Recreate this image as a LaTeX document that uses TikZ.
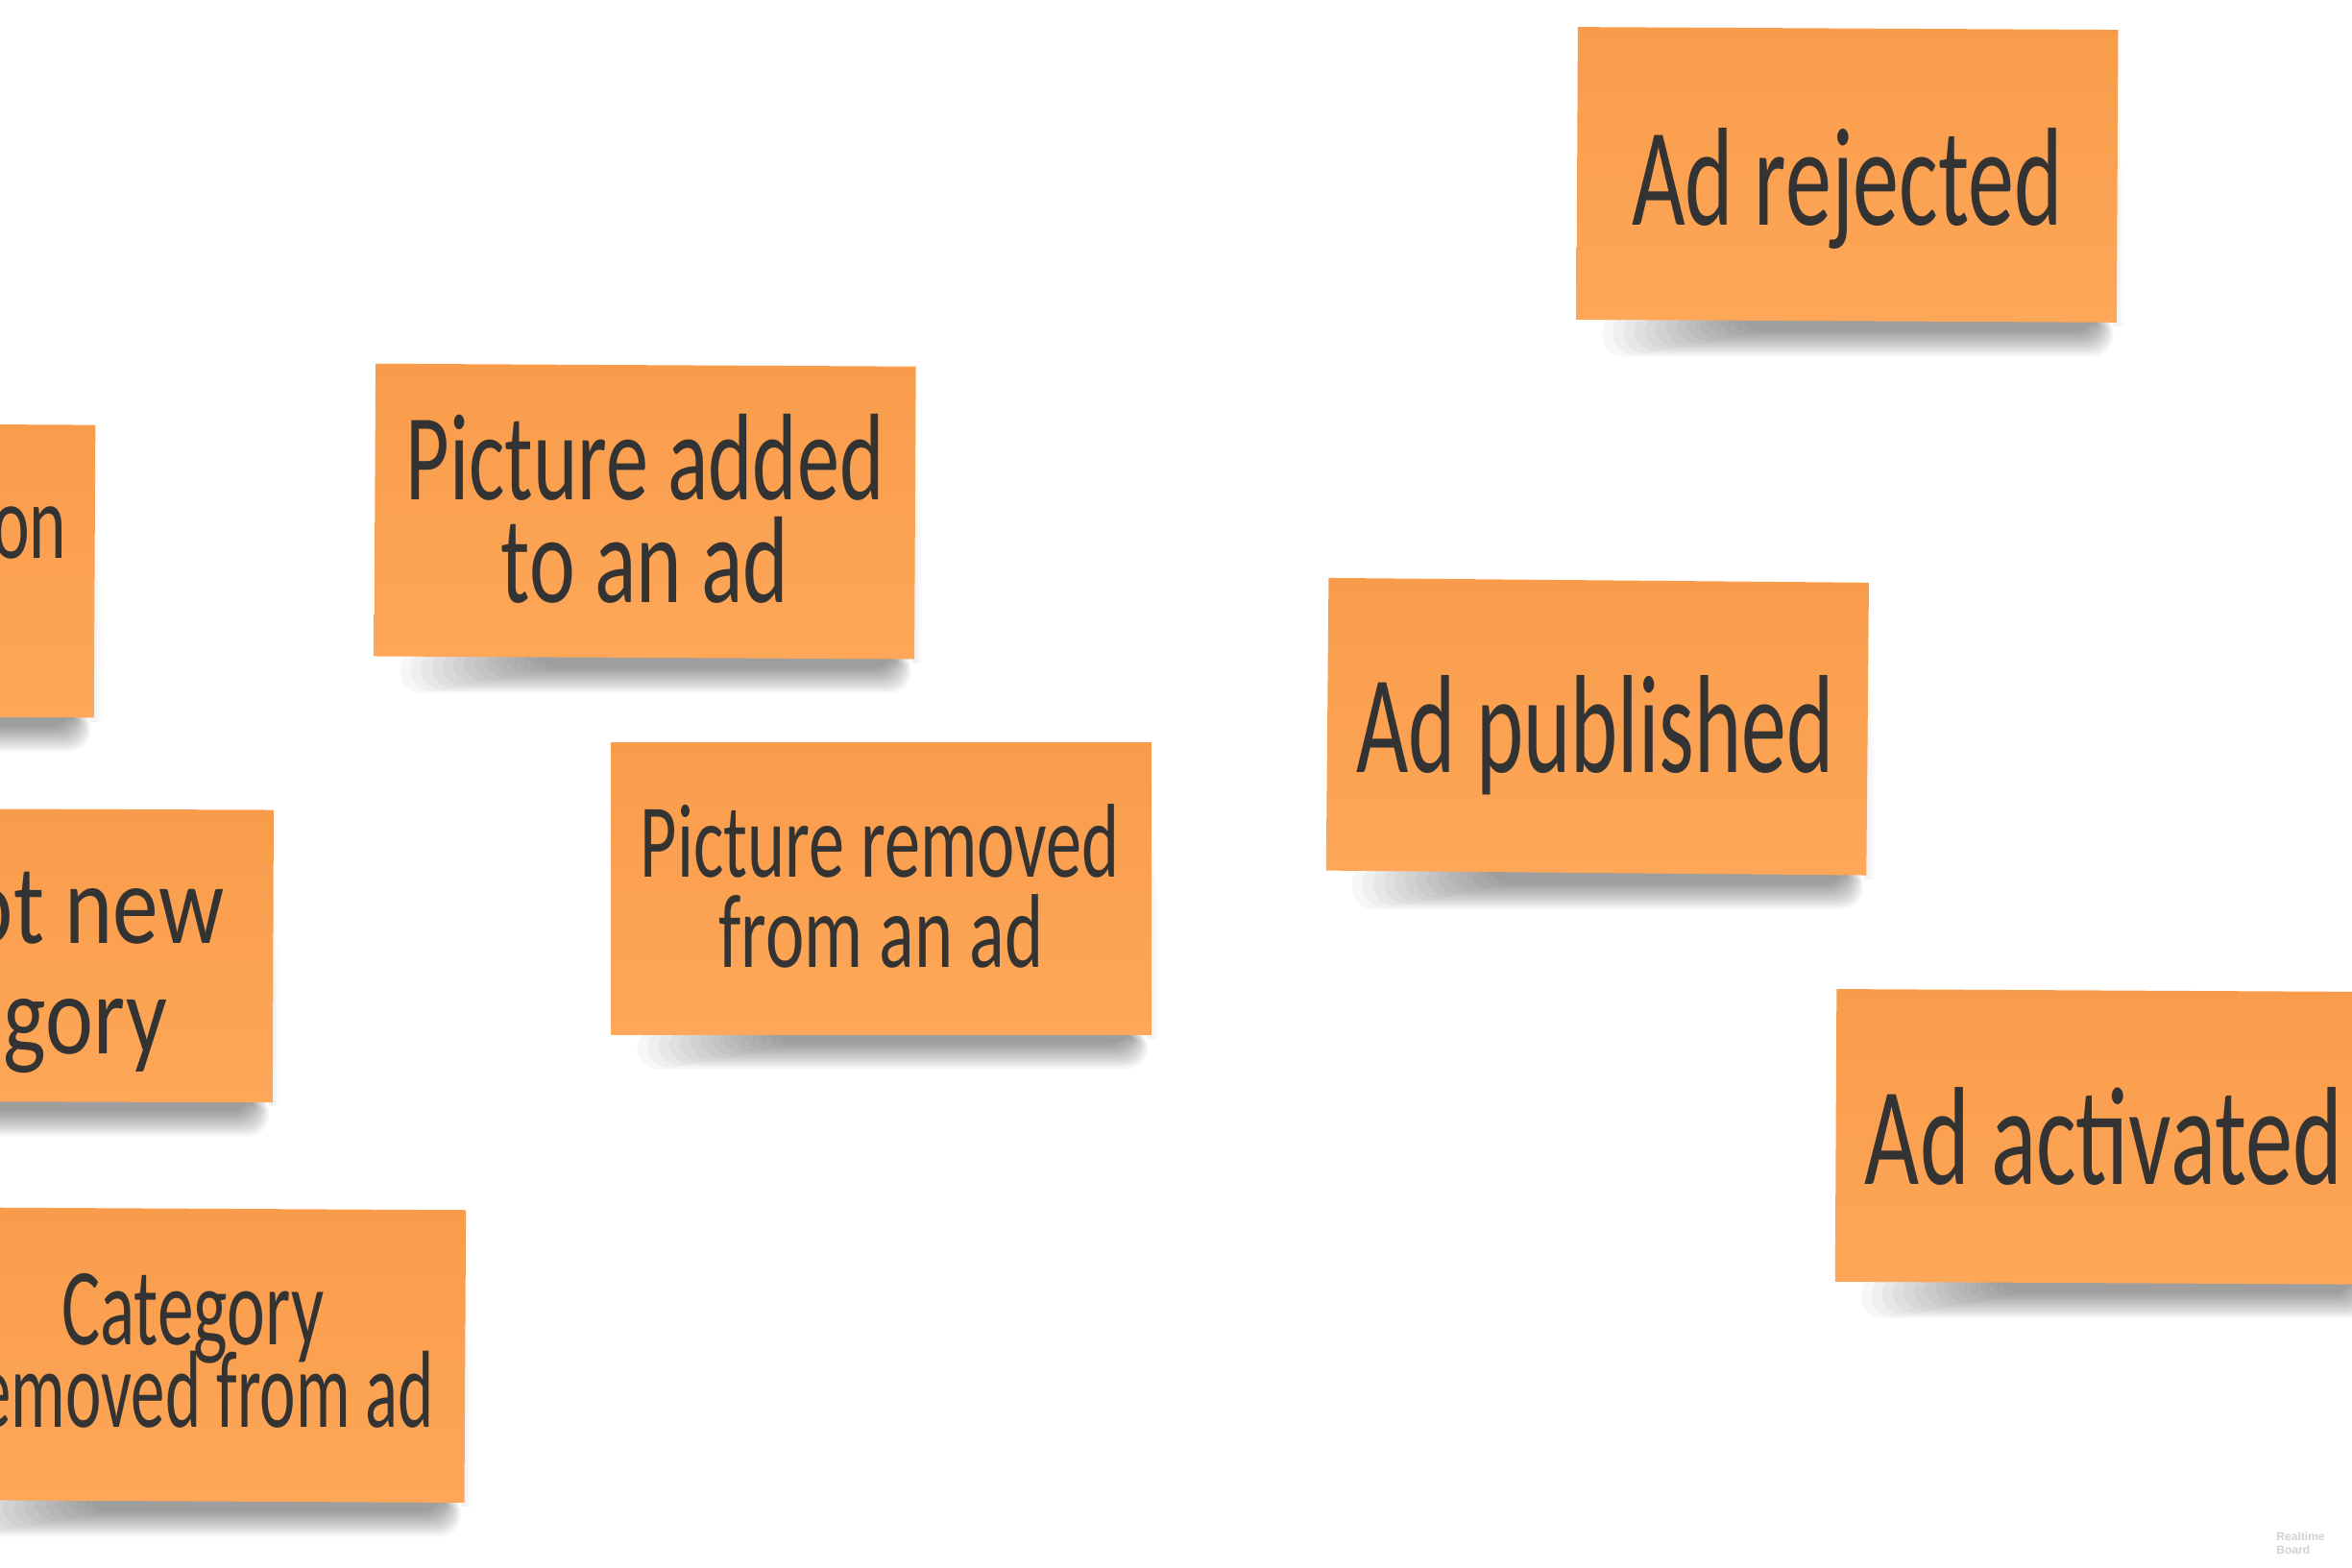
\documentclass[tikz,border=0pt]{standalone}
\usepackage{graphicx}
\usepackage{fontspec}
\setmainfont{Liberation Sans}
\newfontfamily\hand[FakeStretch=0.66]{Carlito}
\usetikzlibrary{calc}
\pgfdeclarelayer{background}
\pgfsetlayers{background,main}
\definecolor{notetop}{HTML}{F89C4B}
\definecolor{notebot}{HTML}{FEA758}
\definecolor{inkc}{HTML}{333333}
\definecolor{wm}{HTML}{D2D2D2}
\tikzset{
  sticky/.style={rectangle, minimum width=3.6cm, minimum height=1.95cm, inner sep=0pt,
    top color=notetop, bottom color=notebot, draw=none},
  inktext/.style={text=inkc, inner sep=0pt, anchor=base},
  bigtxt/.style={inktext, font=\hand\fontsize{26.5pt}{30pt}\selectfont},
}
\newcommand\notecast[1]{%
  \foreach \k in {0,...,13}{%
    \fill[black,opacity=0.032,rounded corners=4pt]
      ($(#1.south west)+(18+7*\k,-6)$) rectangle ($(#1.south east)+(-3-0.9*\k,22-1.3*\k)$);
  }%
  \foreach \k in {0,...,3}{%
    \fill[black,opacity=0.012] ($(#1.north east)+(-4,60+15*\k)$) rectangle ($(#1.south east)+(1+1.2*\k,2)$);
  }%
}
\begin{document}
\begin{tikzpicture}[x=0.01cm,y=-0.01cm]
\useasboundingbox (0,0) rectangle (1568,1045);
\begin{pgfonlayer}{background}
  \fill[white] (0,0) rectangle (1568,1045);
\end{pgfonlayer}
\clip (0,0) rectangle (1568,1045);

% sticky notes
\node[sticky, rotate=-0.3] (rej)  at (1231.5,116.5) {};
\node[sticky, rotate=-0.3] (padd) at (430,341) {};
\node[sticky, rotate=-0.3] (lon)  at (-117,380) {};
\node[sticky, rotate=-0.2] (got)  at (2,637) {};
\node[sticky, rotate=0]    (prem) at (587.5,592.5) {};
\node[sticky, rotate=-0.5] (pub)  at (1065,484.5) {};
\node[sticky, rotate=-0.3] (act)  at (1404,758) {};
\node[sticky, rotate=-0.3] (cat)  at (130,903.5) {};

\begin{pgfonlayer}{background}
  \notecast{rej}\notecast{padd}\notecast{lon}\notecast{got}
  \notecast{prem}\notecast{pub}\notecast{act}\notecast{cat}
\end{pgfonlayer}

% texts
\node[bigtxt] (trej) at (1231.5,150) {Ad rejected};
\node[bigtxt] (tpub) at (1063.5,515) {\scalebox{0.975}[1]{Ad published}};
\node[bigtxt] (tact) at (1402.5,790) {\scalebox{1.026}[1]{Ad activated}};

\node[inktext, font=\hand\fontsize{23.4pt}{26pt}\selectfont] (tpadd1) at (430,333) {\scalebox{1.04}[1]{Picture added}};
\node[inktext, font=\hand\fontsize{23.4pt}{26pt}\selectfont] (tpadd2) at (430,402) {\scalebox{1.067}[1]{to an ad}};

\node[inktext, font=\hand\fontsize{19.9pt}{23pt}\selectfont] (tprem1) at (586.5,585) {\scalebox{1.03}[1]{Picture removed}};
\node[inktext, font=\hand\fontsize{19.9pt}{23pt}\selectfont] (tprem2) at (587.5,645) {\scalebox{1.06}[1]{from an ad}};

\node[inktext, font=\hand\fontsize{20.8pt}{24pt}\selectfont] (tcat1) at (128.5,897) {Category};
\node[inktext, font=\hand\fontsize{20.8pt}{24pt}\selectfont, anchor=base east] (tcat2) at (290,952) {\scalebox{0.94}[1]{emoved from ad}};

\node[inktext, font=\hand\fontsize{21.4pt}{24pt}\selectfont, anchor=base east] (tgot1) at (150,629) {\scalebox{1.23}[1]{ot new}};
\node[inktext, font=\hand\fontsize{21.4pt}{24pt}\selectfont, anchor=base east] (tgot2) at (112,703) {\scalebox{1.22}[1]{gory}};

\node[inktext, font=\hand\fontsize{20.2pt}{24pt}\selectfont, anchor=base east] (tlon) at (45,372) {on};

% watermark
\node[font=\bfseries\fontsize{2.2pt}{2.6pt}\selectfont, text=wm, align=left, anchor=north west, inner sep=0pt]
  (wmark) at (1517,1021) {Realtime\\Board};
\end{tikzpicture}
\end{document}
